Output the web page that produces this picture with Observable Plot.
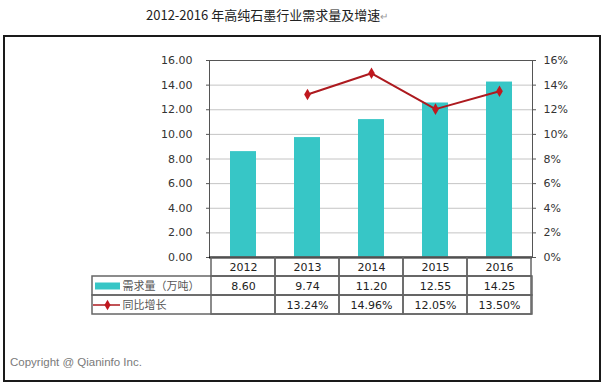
<!DOCTYPE html>
<html>
<head>
<meta charset="utf-8">
<script src="https://cdn.jsdelivr.net/npm/d3@7"></script>
<script src="https://cdn.jsdelivr.net/npm/@observablehq/plot@0.6"></script>
<style>
  html, body { margin: 0; padding: 0; background: #fff; }
  #wrap { position: relative; width: 608px; height: 387px; overflow: hidden; background: #fff; }
  #title { position: absolute; left: 146px; top: 5px; font-family: "Noto Sans CJK SC", sans-serif; font-size: 13px; color: #222; white-space: nowrap; }
  #title .ret { color: #999; font-size: 10px; }
  #box { position: absolute; left: 3px; top: 35px; width: 598px; height: 347px; border: 2px solid #1a1a1a; box-sizing: border-box; }
  #copy { position: absolute; left: 10px; top: 356px; font-family: "Liberation Sans", sans-serif; font-size: 11.5px; color: #7a7a7a; white-space: nowrap; }
  .plot { position: absolute; left: 0; }
</style>
</head>
<body>
<div id="wrap">
  <div id="title">2012-2016 年高纯石墨行业需求量及增速<span class="ret">↵</span></div>
  <div id="box"></div>
  <div id="copy">Copyright @ Qianinfo Inc.</div>
</div>
<script>
// ---- data ----
const years = ["2012", "2013", "2014", "2015", "2016"];
const demand = [8.60, 9.74, 11.20, 12.55, 14.25];           // 需求量（万吨）
const growth = [null, 13.24, 14.96, 12.05, 13.50];          // 同比增长 (%)
const yTicks = [0, 2, 4, 6, 8, 10, 12, 14, 16];
const rowKeys = ["year", "demand", "growth"];
const rowLabels = ["需求量（万吨）", "同比增长"];

const teal = "#37c6c6";
const red = "#ad1a1f";

const barData = years.map((y, i) => ({year: y, demand: demand[i]}));
const lineData = years.map((y, i) => ({year: y, growth: growth[i]})).filter(d => d.growth != null);

const main = Plot.plot({
  width: 608, height: 266,
  marginLeft: 209, marginRight: 76, marginTop: 60, marginBottom: 9,
  style: {fontFamily: "DejaVu Sans", fontSize: "11px", color: "#333", background: "transparent"},
  x: {type: "band", domain: years, padding: 0, axis: null},
  y: {domain: [0, 16], axis: null},
  marks: [
    Plot.ruleY(yTicks, {stroke: "#c4c4c4", strokeWidth: 1}),
    Plot.barY(barData, {x: "year", y: "demand", fill: teal, insetLeft: 19, insetRight: 19}),
    Plot.line(lineData, {x: "year", y: "growth", stroke: red, strokeWidth: 2}),
    Plot.dot(lineData, {x: "year", y: "growth", symbol: "diamond", fill: "#c0181f", r: 3.5}),
    Plot.axisY(yTicks, {anchor: "left", tickSize: 3, tickPadding: 14, tickFormat: d => d.toFixed(2), stroke: "#555"}),
    Plot.axisY(yTicks, {anchor: "right", tickSize: 3, tickPadding: 8, tickFormat: d => d + "%", stroke: "#555"}),
    Plot.frame({stroke: "#555"}),
    Plot.ruleY([0], {stroke: "#111", strokeWidth: 2})
  ]
});
main.classList.add("plot");
main.style.top = "0px";

const cells = [];
years.forEach((y, i) => {
  cells.push({year: y, row: "year", label: y});
  cells.push({year: y, row: "demand", label: demand[i].toFixed(2)});
  cells.push({year: y, row: "growth", label: growth[i] == null ? "" : growth[i].toFixed(2) + "%"});
});
const labelData = [{row: "demand", label: rowLabels[0]}, {row: "growth", label: rowLabels[1]}];

const table = Plot.plot({
  width: 608, height: 58,
  marginLeft: 209, marginRight: 76, marginTop: 0, marginBottom: 1,
  style: {fontFamily: "DejaVu Sans", fontSize: "11px", color: "#222", background: "transparent", overflow: "visible"},
  x: {type: "band", domain: years, padding: 0, axis: null},
  y: {type: "band", domain: rowKeys, padding: 0, axis: null},
  marks: [
    Plot.cell(labelData, {y: "row", insetLeft: -117, fill: "none", stroke: "#666", strokeWidth: 1.5}),
    Plot.cell(cells, {x: "year", y: "row", fill: "none", stroke: "#666", strokeWidth: 1.5}),
    Plot.text(cells, {x: "year", y: "row", text: "label", fill: "#222"}),
    Plot.text(labelData, {y: "row", text: "label", frameAnchor: "left", dx: -87, textAnchor: "start",
      fill: "#555", fontFamily: "Noto Sans CJK SC", fontSize: 11}),
    Plot.ruleY(labelData.filter(d => d.row === "demand"), {y: "row", stroke: teal, strokeWidth: 7, insetLeft: -114, insetRight: 412}),
    Plot.ruleY(labelData.filter(d => d.row === "growth"), {y: "row", stroke: red, strokeWidth: 1.5, insetLeft: -116, insetRight: 412}),
    Plot.dot(labelData.filter(d => d.row === "growth"), {y: "row", frameAnchor: "left", dx: -102, symbol: "diamond", fill: "#c0181f", r: 3.2})
  ]
});
table.classList.add("plot");
table.style.top = "257px";

const wrap = document.getElementById("wrap");
wrap.appendChild(main);
wrap.appendChild(table);
</script>
</body>
</html>
